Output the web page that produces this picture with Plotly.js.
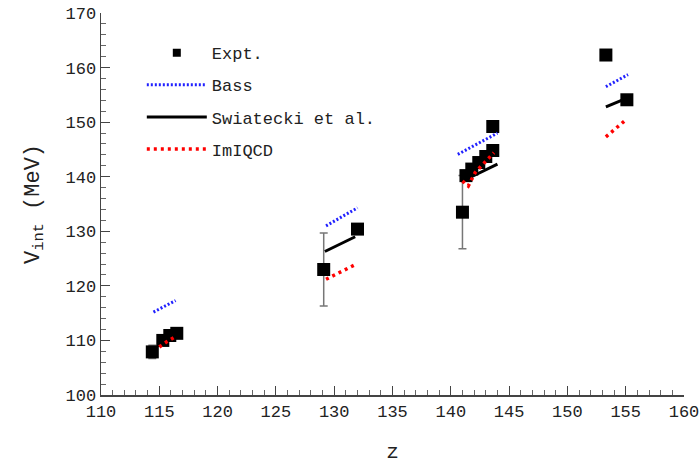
<!DOCTYPE html>
<html>
<head>
<meta charset="utf-8">
<script src="https://cdn.plot.ly/plotly-3.0.1.min.js"></script>
<style>html,body{margin:0;padding:0;background:#fff;}#chart{width:700px;height:464px;}</style>
</head>
<body>
<div id="chart"></div>
<script>
// Experimental values
const zExpt = [114.4, 115.3, 115.9, 116.5, 129.1, 132.0, 141.0, 141.3, 141.8, 142.4, 143.0, 143.6, 143.6, 153.3, 155.1];
const vExpt = [107.9, 110.0, 110.9, 111.3, 123.0, 130.4, 133.5, 140.2, 141.4, 142.6, 143.7, 144.8, 149.2, 162.3, 154.1];
const errExpt = [1.2, 0, 0, 0, 6.7, 0, 6.7, 0, 0, 0, 0, 0, 0, 0, 0];

// Bass model
const zBass = [114.5, 116.4, null, 129.3, 132.0, null, 140.6, 144.0, null, 153.3, 155.2];
const vBass = [115.2, 117.3, null, 131.0, 134.3, null, 144.1, 148.0, null, 156.5, 158.7];

// Swiatecki et al.
const zSwi = [114.9, 116.6, null, 129.2, 131.8, null, 141.2, 144.0, null, 153.3, 154.9];
const vSwi = [110.4, 111.9, null, 126.3, 129.0, null, 139.4, 142.3, null, 152.8, 154.2];

// ImIQCD
const zIm = [115.0, 115.6, 116.4, null, 129.3, 131.9, null, 141.0, 141.5, 142.1, 142.7, 143.2, 143.7, null, 153.3, 155.0];
const vIm = [108.8, 109.7, 110.7, null, 121.2, 124.0, null, 139.2, 138.3, 140.8, 142.2, 143.2, 144.4, null, 147.3, 150.4];

const font = "Liberation Mono, Courier New, monospace";

const traces = [
  {x: zExpt, y: vExpt, mode: 'markers', name: 'Expt.', showlegend: false,
   marker: {symbol: 'square', size: 13, color: '#000'},
   error_y: {type: 'data', array: errExpt, visible: true, color: '#777', thickness: 1.5, width: 4}},
  // legend-only entry for Expt. (smaller symbol, like the reference key)
  {x: [null], y: [null], mode: 'markers', name: 'Expt.', legendgroup: 'e',
   marker: {symbol: 'square', size: 8, color: '#000'}},
  {x: zBass, y: vBass, mode: 'lines', name: 'Bass', legendgroup: 'b',
   line: {color: '#2020ff', width: 3, dash: '2px,2px'}, connectgaps: false},
  {x: zSwi, y: vSwi, mode: 'lines', name: 'Swiatecki et al.', legendgroup: 's',
   line: {color: '#000', width: 3}, connectgaps: false},
  {x: zIm, y: vIm, mode: 'lines', name: 'ImIQCD', legendgroup: 'i',
   line: {color: '#ff0000', width: 3.5, dash: '3px,4px'}, connectgaps: false}
];

const layout = {
  width: 700, height: 464,
  margin: {l: 101, r: 16, t: 13, b: 69},
  paper_bgcolor: '#fff', plot_bgcolor: '#fff',
  font: {family: font, color: '#222', size: 17},
  showlegend: true,
  legend: {x: 0.07, y: 0.942, xanchor: 'left', yanchor: 'top', bgcolor: 'rgba(0,0,0,0)',
           font: {family: font, size: 17, color: '#222'}, itemwidth: 60,
           traceorder: 'grouped', tracegroupgap: 7},
  xaxis: {
    range: [110, 160], tick0: 110, dtick: 5, ticks: 'inside', ticklen: 9, tickcolor: '#444',
    showline: true, linecolor: '#444', linewidth: 1.5, showgrid: false, zeroline: false,
    ticklabeloverflow: 'allow',
    minor: {dtick: 1, ticks: 'inside', ticklen: 5, tickcolor: '#666', showgrid: false},
    tickfont: {family: font, size: 17, color: '#222'},
    title: {text: 'z', font: {family: font, size: 21, color: '#222'}, standoff: 22}
  },
  yaxis: {
    range: [100, 170], tick0: 100, dtick: 10, ticks: 'inside', ticklen: 9, tickcolor: '#444',
    showline: true, linecolor: '#444', linewidth: 1.5, showgrid: false, zeroline: false,
    minor: {dtick: 2, ticks: 'inside', ticklen: 5, tickcolor: '#666', showgrid: false},
    tickfont: {family: font, size: 17, color: '#222'},
    title: {text: 'V<sub>int</sub> (MeV)', font: {family: font, size: 22, color: '#222'}, standoff: 20}
  }
};

Plotly.newPlot('chart', traces, layout, {staticPlot: true});
</script>
</body>
</html>
